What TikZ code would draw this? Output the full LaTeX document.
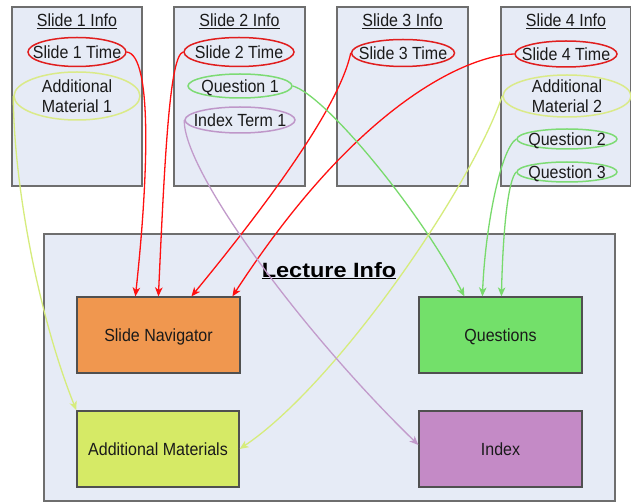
\documentclass[tikz,border=0pt]{standalone}
\usepackage{fontspec}
\setmainfont{Liberation Sans}
\usetikzlibrary{shapes.geometric,arrows.meta}
\definecolor{panel}{HTML}{E6EBF6}
\definecolor{panelline}{HTML}{6E6E6E}
\definecolor{navfill}{HTML}{F0974F}
\definecolor{qfill}{HTML}{73E06A}
\definecolor{amfill}{HTML}{D6EA66}
\definecolor{idxfill}{HTML}{C48AC6}
\definecolor{boxline}{HTML}{505050}
\definecolor{redE}{HTML}{E01E1E}
\definecolor{redL}{HTML}{FF1010}
\definecolor{greenE}{HTML}{7DDB74}
\definecolor{greenL}{HTML}{78DA6C}
\definecolor{yelE}{HTML}{DAEA88}
\definecolor{yelL}{HTML}{D6EC7C}
\definecolor{purE}{HTML}{BF97C9}
\definecolor{purL}{HTML}{C29BCB}
\definecolor{ink}{HTML}{1A1A1A}
\newcommand{\tx}[1]{\scalebox{1}[1.1]{#1}}
\tikzset{
  panelbox/.style={draw=panelline, fill=panel, line width=1.2pt, inner sep=0pt},
  slidetitle/.style={font=\fontsize{16}{19}\selectfont, text=ink, anchor=base, inner sep=0pt},
  ell/.style={ellipse, line width=1.5pt, inner sep=0pt, fill=none},
  lbl/.style={font=\fontsize{16}{19}\selectfont, text=ink, inner sep=0pt, text height=12.6pt, text depth=0pt},
  lbltwo/.style={font=\fontsize{16}{19.5}\selectfont, text=ink, inner sep=0pt, align=center},
  part/.style={draw=boxline, line width=1.2pt, minimum width=163pt, minimum height=76pt, inner sep=0pt,
    font=\fontsize{16}{19}\selectfont, text=ink, text height=12.6pt, text depth=0pt},
  con/.style={line width=1.3pt, -{Stealth[length=9pt,width=7.5pt,inset=2.5pt]}}
}
\begin{document}
\begin{tikzpicture}[x=1pt,y=-1pt]
\useasboundingbox (0,0) rectangle (631,502);
\fill[white] (0,0) rectangle (631,502);

% Lecture box
\node[panelbox, minimum width=571pt, minimum height=267pt] (lec) at (329.5,367.5) {};
\node[anchor=base, inner sep=0pt, font=\fontsize{23.5}{26}\selectfont\bfseries, text=black] (lect) at (329,277) {\scalebox{1}[0.88]{\underline{Lecture Info}}};

% Slide boxes
\node[panelbox, minimum width=130pt, minimum height=179pt] (s1) at (77,96.5) {};
\node[panelbox, minimum width=131pt, minimum height=179pt] (s2) at (239.5,96.5) {};
\node[panelbox, minimum width=131pt, minimum height=179pt] (s3) at (402.5,96.5) {};
\node[panelbox, minimum width=130pt, minimum height=179pt] (s4) at (566,96.5) {};

\node[slidetitle] (s1t) at (77,26.5) {\tx{\underline{Slide 1 Info}}};
\node[slidetitle] (s2t) at (239.5,26.5) {\tx{\underline{Slide 2 Info}}};
\node[slidetitle] (s3t) at (402.5,26.5) {\tx{\underline{Slide 3 Info}}};
\node[slidetitle] (s4t) at (566,26.5) {\tx{\underline{Slide 4 Info}}};

% Ellipses
\node[ell, draw=redE, minimum width=98pt, minimum height=29pt] (t1) at (77,52) {};
\node[lbl] (t1l) at (t1) {\tx{Slide 1 Time}};
\node[ell, draw=yelE, minimum width=126pt, minimum height=48pt] (a1) at (77,96) {};
\node[lbltwo] (a1l) at (77,96) {\tx{Additional}\\\tx{Material 1}};

\node[ell, draw=redE, minimum width=110pt, minimum height=29pt] (t2) at (239,52) {};
\node[lbl] (t2l) at (t2) {\tx{Slide 2 Time}};
\node[ell, draw=greenE, minimum width=104pt, minimum height=24pt] (q1) at (240,86) {};
\node[lbl] (q1l) at (q1) {\tx{Question 1}};
\node[ell, draw=purE, minimum width=110pt, minimum height=26pt] (it) at (240,120) {};
\node[lbl] (itl) at (it) {\tx{Index Term 1}};

\node[ell, draw=redE, minimum width=103pt, minimum height=27pt] (t3) at (403,53) {};
\node[lbl] (t3l) at (t3) {\tx{Slide 3 Time}};

\node[ell, draw=redE, minimum width=102pt, minimum height=26pt] (t4) at (566,54) {};
\node[lbl] (t4l) at (t4) {\tx{Slide 4 Time}};
\node[ell, draw=yelE, minimum width=128pt, minimum height=42pt] (a2) at (567,96) {};
\node[lbltwo] (a2l) at (567,96) {\tx{Additional}\\\tx{Material 2}};
\node[ell, draw=greenE, minimum width=100pt, minimum height=20pt] (q2) at (567,139) {};
\node[lbl] (q2l) at (q2) {\tx{Question 2}};
\node[ell, draw=greenE, minimum width=100pt, minimum height=20pt] (q3) at (567,172) {};
\node[lbl] (q3l) at (q3) {\tx{Question 3}};

% Parts of lecture
\node[part, fill=navfill] (nav) at (158.5,335) {\tx{Slide Navigator}};
\node[part, fill=qfill] (qs) at (500.5,335) {\tx{Questions}};
\node[part, fill=amfill, minimum width=162pt] (am) at (158,449) {\tx{Additional Materials}};
\node[part, fill=idxfill] (idx) at (500.5,449) {\tx{Index}};

% Connectors
\draw[con, draw=redL] (t1.east) .. controls (153,55) and (148,180) .. ([xshift=59pt]nav.north west);
\draw[con, draw=redL] (t2.west) .. controls (170,55) and (165,150) .. ([xshift=82pt]nav.north west);
\draw[con, draw=redL] (t3.west) .. controls (345,80) and (320,140) .. ([xshift=115pt]nav.north west);
\draw[con, draw=redL] (t4.west) .. controls (470,55) and (360,100) .. ([xshift=156pt]nav.north west);

\draw[con, draw=greenL] (q1.east) .. controls (325,95) and (420,210) .. ([xshift=46pt]qs.north west);
\draw[con, draw=greenL] (q2.west) .. controls (500,150) and (485,230) .. ([xshift=64pt]qs.north west);
\draw[con, draw=greenL] (q3.west) .. controls (508,180) and (503,230) .. ([xshift=83pt]qs.north west);

\draw[con, draw=yelL] (a1.west) .. controls (14,190) and (40,320) .. (am.north west);
\draw[con, draw=yelL] (a2.west) .. controls (470,190) and (335,385) .. (am.east);

\draw[con, draw=purL] (it.west) .. controls (183,170) and (300,330) .. ([yshift=4pt]idx.west);
\end{tikzpicture}
\end{document}
